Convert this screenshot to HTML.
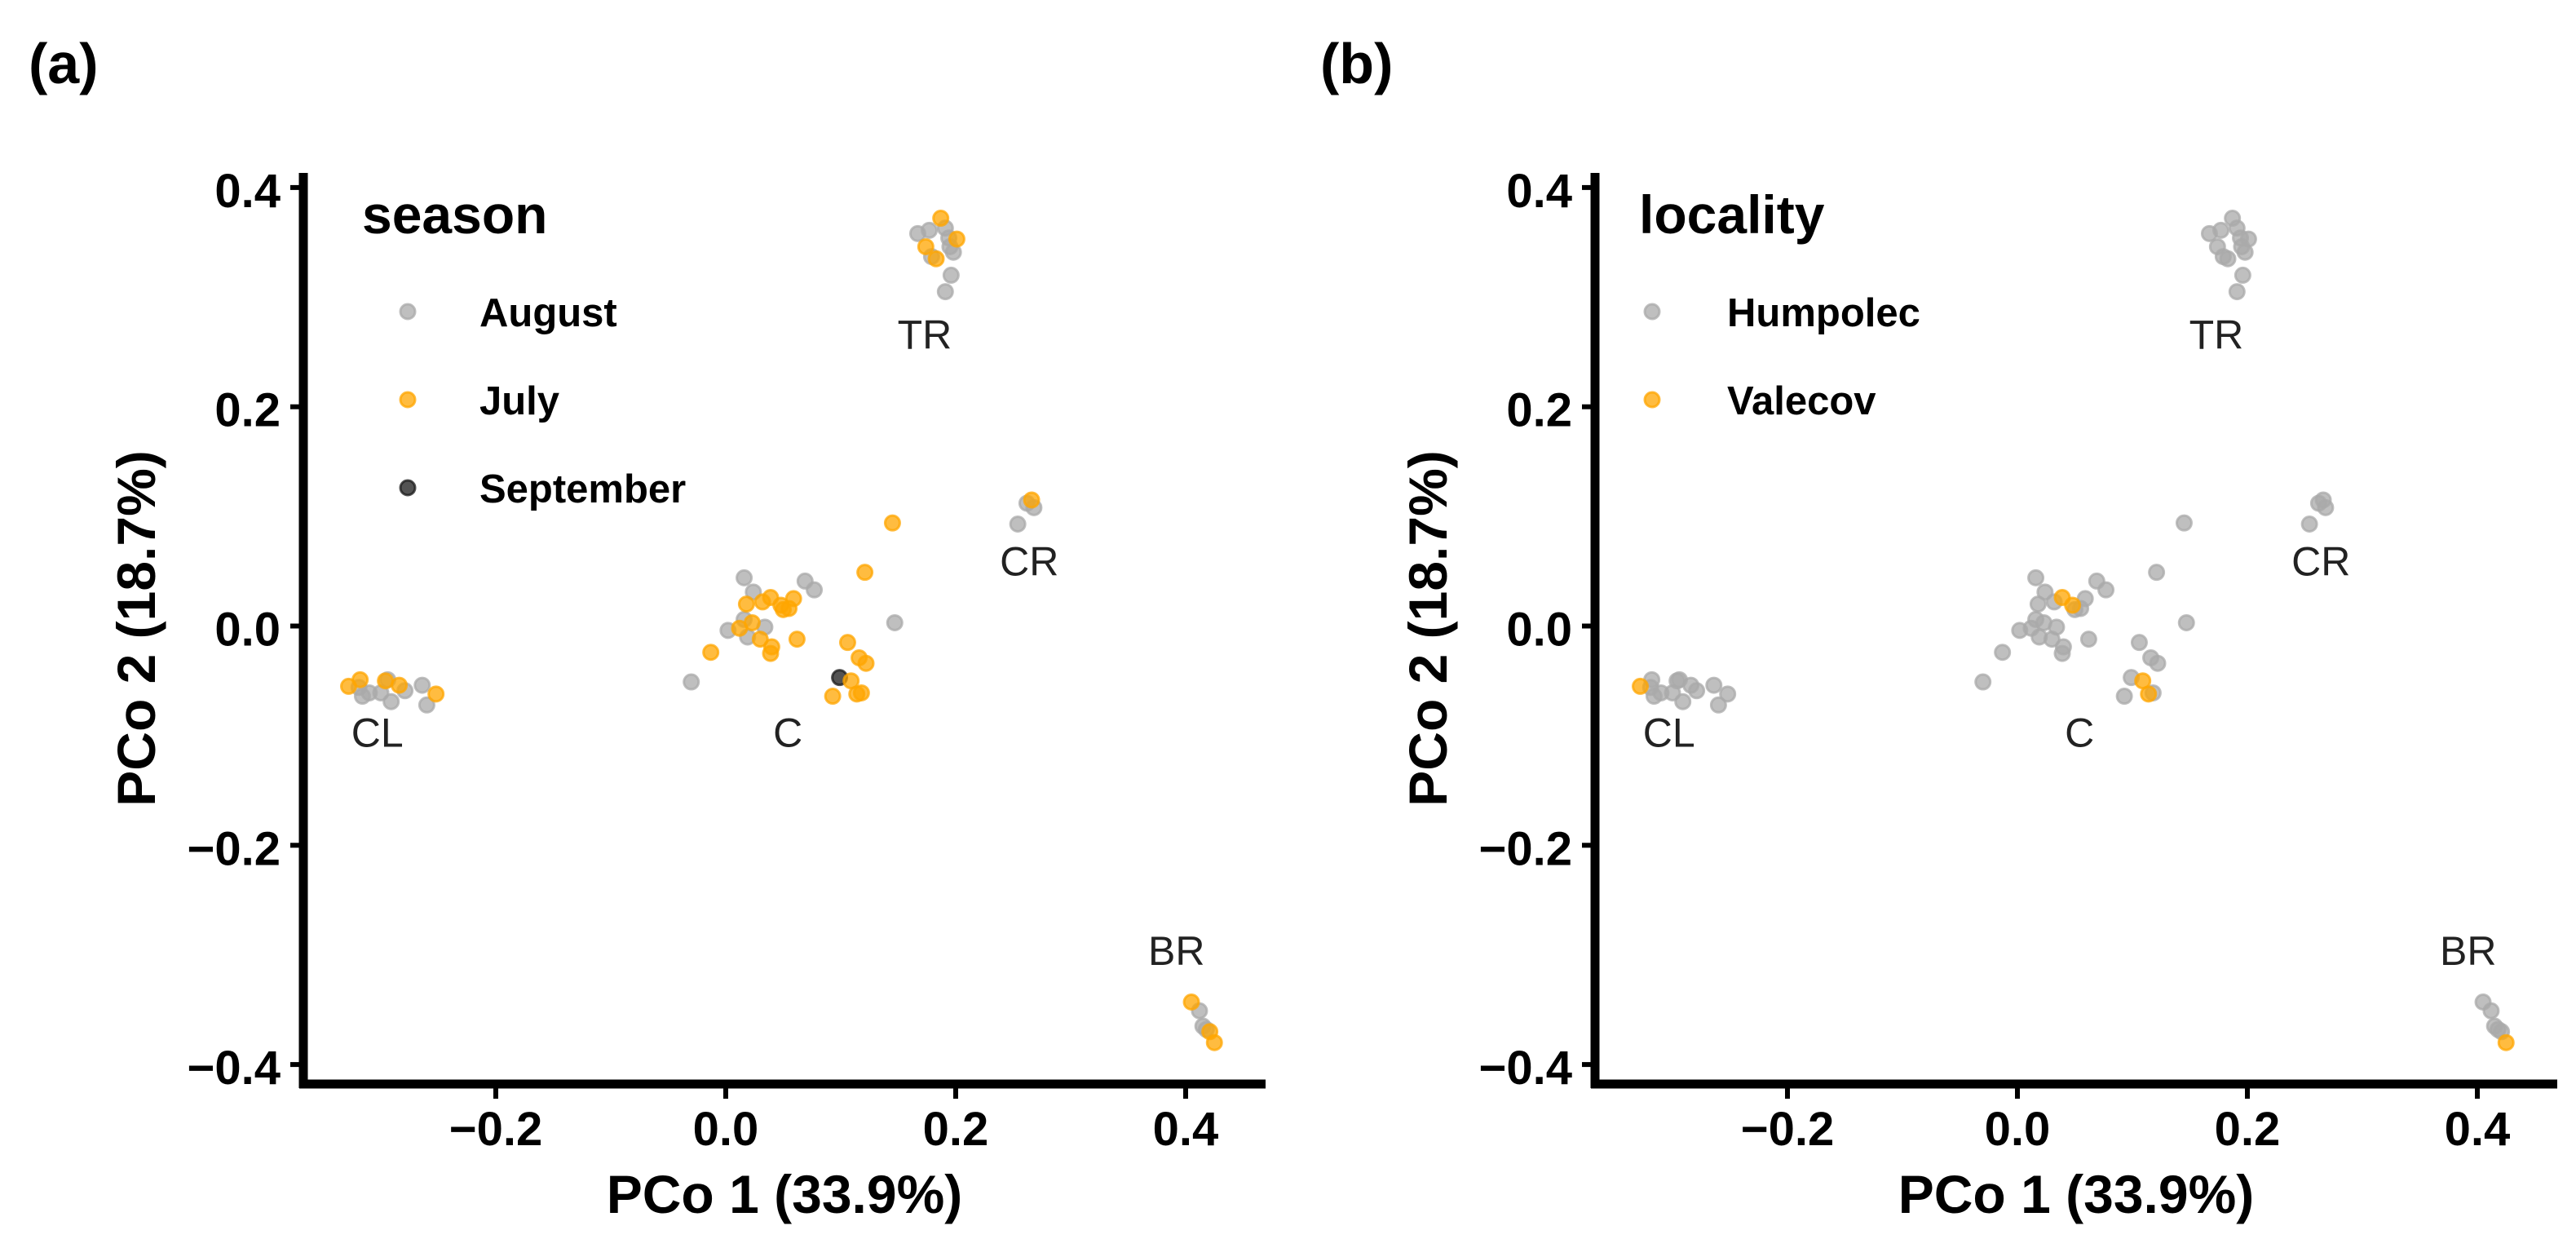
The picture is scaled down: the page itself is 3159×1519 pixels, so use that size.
<!DOCTYPE html>
<html><head><meta charset="utf-8">
<style>
html,body{margin:0;padding:0;background:#fff;}
svg{display:block;font-family:"Liberation Sans",Arial,sans-serif;}
</style></head>
<body>
<svg id="chart" width="3159" height="1519" viewBox="0 0 3159 1519" xmlns="http://www.w3.org/2000/svg">
<rect width="3159" height="1519" fill="#fff"/>
</svg>
<script>
const xs = [0.145,0.121,0.016,0.024,0.069,0.077,0.039,0.032,0.018,0.059,0.048,0.050,0.055,0.147,0.016,0.023,0.002,0.034,0.012,0.019,0.030,0.062,0.040,0.039,-0.013,-0.030,0.106,0.116,0.122,0.099,0.109,0.093,0.114,0.118,
 0.187,0.167,0.177,0.191,0.194,0.201,0.174,0.195,0.198,0.183,0.179,0.196,0.191,
 -0.328,-0.318,-0.319,-0.316,-0.310,-0.296,-0.294,-0.300,-0.291,-0.284,-0.279,-0.264,-0.252,-0.260,
 0.262,0.266,0.268,0.254,
 0.405,0.412,0.415,0.418,0.421,0.425];
const ys = [0.094,0.049,0.044,0.031,0.041,0.033,0.026,0.022,0.020,0.025,0.019,0.015,0.016,0.003,0.006,0.003,-0.004,-0.001,-0.002,-0.010,-0.012,-0.012,-0.019,-0.025,-0.024,-0.051,-0.015,-0.029,-0.034,-0.047,-0.050,-0.064,-0.062,-0.061,
 0.372,0.358,0.361,0.363,0.354,0.353,0.346,0.346,0.341,0.335,0.337,0.320,0.305,
 -0.055,-0.049,-0.056,-0.064,-0.061,-0.050,-0.049,-0.061,-0.069,-0.054,-0.059,-0.054,-0.062,-0.072,
 0.112,0.115,0.108,0.093,
 -0.343,-0.351,-0.365,-0.368,-0.370,-0.380];
const season = ["J","J","A","A","A","A","J","J","J","J","J","J","J","A","A","J","A","A","J","A","J","J","J","J","J","A","J","J","J","S","J","J","J","J",
 "J","A","A","A","A","J","J","A","A","J","A","A","A",
 "J","J","A","A","A","J","A","A","A","J","A","A","J","A",
 "A","J","A","A",
 "J","A","A","A","J","J"];
const locality = ["H","H","H","H","H","H","V","H","H","H","V","H","H","H","H","H","H","H","H","H","H","H","H","H","H","H","H","H","H","H","V","H","V","H",
 "H","H","H","H","H","H","H","H","H","H","H","H","H",
 "V","H","H","H","H","H","H","H","H","H","H","H","H","H",
 "H","H","H","H",
 "H","H","H","H","H","V"];
const xTicks = [-0.2,0.0,0.2,0.4];
const yTicks = [-0.4,-0.2,0.0,0.2,0.4];
const xTickLabels = ["\u22120.2","0.0","0.2","0.4"];
const yTickLabels = ["\u22120.4","\u22120.2","0.0","0.2","0.4"];
const groupNames = ["TR","CR","C","CL","BR"];
const groupX = [0.173,0.264,0.054,-0.303,0.392];
const groupY = [0.253,0.046,-0.110,-0.110,-0.309];
const seasonKeys = ["A","J","S"];
const seasonLabels = ["August","July","September"];
const localityKeys = ["H","V"];
const localityLabels = ["Humpolec","Valecov"];

const NS="http://www.w3.org/2000/svg";
const svg=document.getElementById('chart');
const COL={A:"#a9a9a9",J:"#ffa500",S:"#1a1a1a",H:"#a9a9a9",V:"#ffa500"};
function mk(tag,attrs,parent){const e=document.createElementNS(NS,tag);for(const k in attrs)e.setAttribute(k,attrs[k]);(parent||svg).appendChild(e);return e;}

function panel(ox,tag,legendTitle,keys,labels,colorArr,legX,legTextX,legTitleX){
  const g=mk('g',{});
  
  
  const X=v=>ox+890+v*1410;
  const Y=v=>767.5-v*1344;
  const left=ox+372,right=ox+1552,top=212,bottom=1329;
  const pl=mk('text',{x:ox+35,y:102,'font-size':70,'font-weight':'bold',fill:'#000'},g);pl.textContent='('+tag+')';
  
  
  const pg=mk('g',{},g);
  
  
  const order=[];
  for(let i=0;i<xs.length;i++)order.push(i);
  order.sort((a,b)=>(colorArr[a]==='A'||colorArr[a]==='H'?0:1)-(colorArr[b]==='A'||colorArr[b]==='H'?0:1));
  for(const i of order){
    const c=COL[colorArr[i]];
    const p=mk('circle',{cx:X(xs[i]),cy:Y(ys[i]),r:9,fill:c,'fill-opacity':0.75,stroke:c,'stroke-opacity':0.75,'stroke-width':3},pg);
    
    
  }
  for(let i=0;i<groupNames.length;i++){
    const t=mk('text',{x:X(groupX[i]),y:Y(groupY[i]),'font-size':50,'text-anchor':'middle',fill:'#222'},g);
    t.textContent=groupNames[i];
    
    
  }
  const ya=mk('line',{x1:left,y1:top,x2:left,y2:bottom+5,stroke:'#000','stroke-width':11},g);
  
  
  const xa=mk('line',{x1:left-5,y1:bottom,x2:right,y2:bottom,stroke:'#000','stroke-width':11},g);
  
  
  for(let i=0;i<xTicks.length;i++){
    const tk=mk('line',{x1:X(xTicks[i]),y1:bottom,x2:X(xTicks[i]),y2:bottom+18,stroke:'#000','stroke-width':6},g);
    
    
    const tl=mk('text',{x:X(xTicks[i]),y:1404,'font-size':58,'font-weight':'bold','text-anchor':'middle'},g);
    tl.textContent=xTickLabels[i];
    
    
  }
  for(let i=0;i<yTicks.length;i++){
    const tk=mk('line',{x1:left-16,y1:Y(yTicks[i]),x2:left,y2:Y(yTicks[i]),stroke:'#000','stroke-width':6},g);
    
    
    const tl=mk('text',{x:left-28,y:Y(yTicks[i])+24,'font-size':58,'font-weight':'bold','text-anchor':'end'},g);
    tl.textContent=yTickLabels[i];
    
    
  }
  const xt=mk('text',{x:(left+right)/2,y:1487,'font-size':66,'font-weight':'bold','text-anchor':'middle'},g);
  xt.textContent='PCo 1 (33.9%)';
  
  
  const yt=mk('text',{x:0,y:0,'font-size':66,'font-weight':'bold','text-anchor':'middle',transform:'translate('+(ox+190)+','+((top+bottom)/2)+') rotate(-90)'},g);
  yt.textContent='PCo 2 (18.7%)';
  
  
  const lg=mk('g',{},g);
  
  
  const lt=mk('text',{x:legTitleX,y:286,'font-size':66,'font-weight':'bold'},lg);
  lt.textContent=legendTitle;
  
  
  for(let i=0;i<keys.length;i++){
    const cy=382+i*108;
    const c=COL[keys[i]];
    const d=mk('circle',{cx:legX,cy:cy,r:9,fill:c,'fill-opacity':0.75,stroke:c,'stroke-opacity':0.75,'stroke-width':3},lg);
    
    
    const t=mk('text',{x:legTextX,y:cy+18,'font-size':49,'font-weight':'bold'},lg);
    t.textContent=labels[i];
    
    
  }
}
panel(0,'a','season',seasonKeys,seasonLabels,season,500,588,444);
panel(1584,'b','locality',localityKeys,localityLabels,locality,2026,2118,2010);
</script>
</body></html>
